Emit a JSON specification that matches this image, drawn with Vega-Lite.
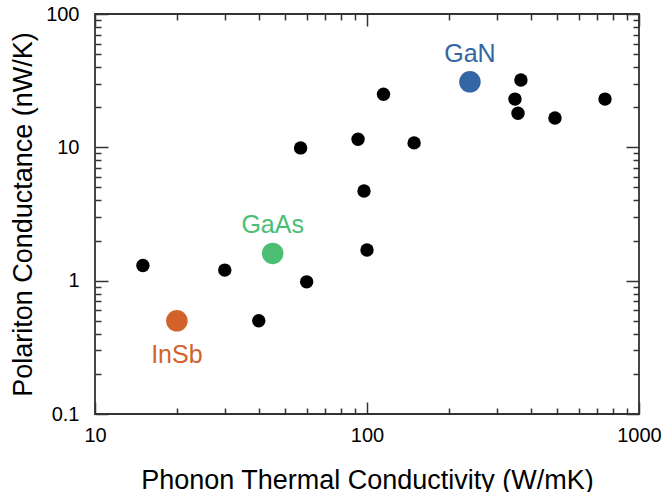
{
  "$schema": "https://vega.github.io/schema/vega-lite/v6.json",
  "width": 544,
  "height": 400,
  "autosize": {"type": "none"},
  "padding": {"left": 95, "top": 14, "right": 24, "bottom": 78},
  "config": {
    "view": {"stroke": "#333333", "strokeWidth": 1.8},
    "font": "Liberation Sans",
    "axis": {"grid": false, "domain": false, "labelFont": "Liberation Sans", "titleFont": "Liberation Sans", "labelColor": "#000000", "titleColor": "#000000", "tickColor": "#333333", "tickWidth": 1.5}
  },
  "datasets": {
    "black": [
      {"k": 15, "g": 1.3},
      {"k": 30, "g": 1.2},
      {"k": 40, "g": 0.5},
      {"k": 60, "g": 0.98},
      {"k": 57, "g": 9.9},
      {"k": 92.7, "g": 11.5},
      {"k": 97.5, "g": 4.7},
      {"k": 100, "g": 1.7},
      {"k": 115, "g": 25},
      {"k": 149, "g": 10.8},
      {"k": 350, "g": 23},
      {"k": 359, "g": 18},
      {"k": 368, "g": 32},
      {"k": 491, "g": 16.6},
      {"k": 750, "g": 23}
    ],
    "hl": [
      {"k": 20, "g": 0.5, "name": "InSb", "pos": "below"},
      {"k": 45, "g": 1.6, "name": "GaAs", "pos": "above"},
      {"k": 239, "g": 31, "name": "GaN", "pos": "above"}
    ]
  },
  "resolve": {"axis": {"x": "independent", "y": "independent"}},
  "layer": [
    {
      "data": {"name": "black"},
      "mark": {"type": "circle", "size": 180, "opacity": 1, "color": "#000000"},
      "encoding": {
        "x": {"field": "k", "type": "quantitative", "scale": {"type": "log", "domain": [10, 1000]},
          "axis": {"orient": "bottom", "ticks": false, "values": [10, 100, 1000], "format": "d", "labelFontSize": 20, "labelPadding": 11, "labelFlush": false, "title": "Phonon Thermal Conductivity (W/mK)", "titleFontSize": 27, "titleFontWeight": "normal", "titlePadding": 22}},
        "y": {"field": "g", "type": "quantitative", "scale": {"type": "log", "domain": [0.1, 100]},
          "axis": {"orient": "left", "ticks": false, "values": [0.1, 1, 10, 100], "labelFontSize": 20, "labelPadding": 16, "labelFlush": false, "title": "Polariton Conductance (nW/K)", "titleFontSize": 27, "titleFontWeight": "normal", "titlePadding": 8}}
      }
    },
    {
      "data": {"name": "hl"},
      "mark": {"type": "circle", "size": 464, "opacity": 1},
      "encoding": {
        "x": {"field": "k", "type": "quantitative", "scale": {"type": "log", "domain": [10, 1000]},
          "axis": {"orient": "bottom", "labels": false, "title": null, "values": [10, 20, 30, 40, 50, 60, 70, 80, 90, 100, 200, 300, 400, 500, 600, 700, 800, 900, 1000],
            "tickSize": {"condition": {"test": "indexof([10, 100, 1000], datum.value) >= 0", "value": -12}, "value": -6}}},
        "y": {"field": "g", "type": "quantitative", "scale": {"type": "log", "domain": [0.1, 100]},
          "axis": {"orient": "left", "labels": false, "title": null, "values": [0.1, 0.2, 0.3, 0.4, 0.5, 0.6, 0.7, 0.8, 0.9, 1, 2, 3, 4, 5, 6, 7, 8, 9, 10, 20, 30, 40, 50, 60, 70, 80, 90, 100],
            "tickSize": {"condition": {"test": "indexof([0.1, 1, 10, 100], datum.value) >= 0", "value": -13}, "value": -6}}},
        "color": {"field": "name", "type": "nominal", "scale": {"domain": ["InSb", "GaAs", "GaN"], "range": ["#D2622A", "#4BBE74", "#3465A4"]}, "legend": null}
      }
    },
    {
      "data": {"name": "hl"},
      "transform": [{"filter": "datum.pos == 'above'"}],
      "mark": {"type": "text", "fontSize": 25, "baseline": "alphabetic", "dy": -20, "font": "Liberation Sans"},
      "encoding": {
        "x": {"field": "k", "type": "quantitative", "scale": {"type": "log", "domain": [10, 1000]},
          "axis": {"orient": "top", "labels": false, "title": null, "values": [10, 20, 30, 40, 50, 60, 70, 80, 90, 100, 200, 300, 400, 500, 600, 700, 800, 900, 1000],
            "tickSize": {"condition": {"test": "indexof([10, 100, 1000], datum.value) >= 0", "value": -12}, "value": -6}}},
        "y": {"field": "g", "type": "quantitative", "scale": {"type": "log", "domain": [0.1, 100]},
          "axis": {"orient": "right", "labels": false, "title": null, "values": [0.1, 0.2, 0.3, 0.4, 0.5, 0.6, 0.7, 0.8, 0.9, 1, 2, 3, 4, 5, 6, 7, 8, 9, 10, 20, 30, 40, 50, 60, 70, 80, 90, 100],
            "tickSize": {"condition": {"test": "indexof([0.1, 1, 10, 100], datum.value) >= 0", "value": -13}, "value": -6}}},
        "text": {"field": "name"},
        "color": {"field": "name", "type": "nominal", "scale": {"domain": ["InSb", "GaAs", "GaN"], "range": ["#D2622A", "#4BBE74", "#3465A4"]}, "legend": null}
      }
    },
    {
      "data": {"name": "hl"},
      "transform": [{"filter": "datum.pos == 'below'"}],
      "mark": {"type": "text", "fontSize": 25, "baseline": "alphabetic", "dy": 42, "font": "Liberation Sans"},
      "encoding": {
        "x": {"field": "k", "type": "quantitative", "scale": {"type": "log", "domain": [10, 1000]}, "axis": null},
        "y": {"field": "g", "type": "quantitative", "scale": {"type": "log", "domain": [0.1, 100]}, "axis": null},
        "text": {"field": "name"},
        "color": {"field": "name", "type": "nominal", "scale": {"domain": ["InSb", "GaAs", "GaN"], "range": ["#D2622A", "#4BBE74", "#3465A4"]}, "legend": null}
      }
    }
  ]
}
